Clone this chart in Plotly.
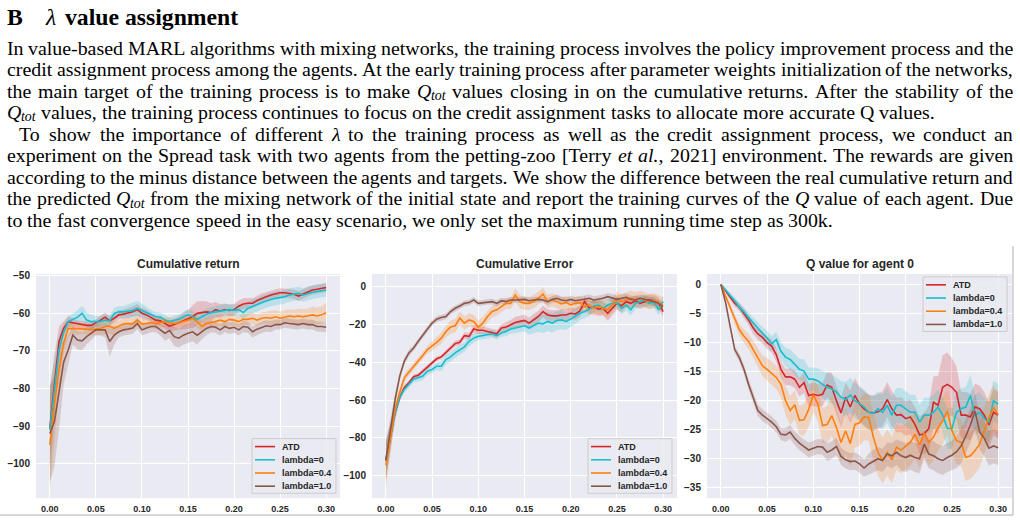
import os
import re
import struct
import plotly.graph_objects as go

W, H = 1020, 522
x_steps = [round(i * 0.005, 3) for i in range(61)]
series_names = ["ATD", "lambda=0", "lambda=0.4", "lambda=1.0"]
series_colors = ["#d62728", "#17becf", "#ff7f0e", "#8c564b"]
band_colors = ["rgba(214,39,40,0.22)", "rgba(23,190,207,0.22)", "rgba(255,127,14,0.22)", "rgba(140,86,75,0.22)"]
panel_titles = ["Cumulative return", "Cumulative Error", "Q value for agent 0"]
x_ticks = [0.0, 0.05, 0.10, 0.15, 0.20, 0.25, 0.30]
y_ticks_p1 = [-50, -60, -70, -80, -90, -100]
y_ticks_p2 = [0, -20, -40, -60, -80, -100]
y_ticks_p3 = [0, -5, -10, -15, -20, -25, -30, -35]

# ---------- Panel 1: Cumulative return ----------
ret_atd = [-90.5, -79, -67.5, -64, -62.2, -62.5, -62.8, -63, -63.2, -63.2,
           -62.6, -61.8, -61, -62, -61.3, -60.4, -60.2, -60, -59.6, -59,
           -60, -60.4, -61, -61.8, -62, -62.8, -63.4, -63, -62.5, -62,
           -61.6, -60.9, -60, -59.8, -59.6, -59.8, -59, -59.4, -59, -59.2,
           -59, -58.1, -57.5, -57.3, -57.3, -56.6, -56, -55.6, -55.1, -54.8,
           -54.5, -54.5, -54.7, -54.9, -55.4, -54.9, -54.2, -53.8, -53.6, -53.3,
           -53.1]
ret_l0 = [-91, -80, -69.7, -65, -62.2, -61.6, -61, -60, -61.8, -62.2,
          -62.2, -62.2, -61.8, -62, -60, -59.6, -59.6, -59.4, -59.2, -58.7,
          -59.2, -59.8, -60.4, -60.9, -61, -61.8, -62.2, -61.8, -61.6, -60.9,
          -60.4, -60.9, -61.6, -60.9, -60.2, -59.8, -59.6, -59.2, -59, -59,
          -59.2, -59, -59.8, -58.7, -58.2, -57.8, -57.2, -56.7, -56.3, -56,
          -55.8, -55.6, -55.1, -54.9, -54.7, -55.1, -54.7, -54.4, -54.2, -53.9,
          -53.8]
ret_l04 = [-95, -84, -75, -68, -64, -64, -64.2, -64, -64.2, -64.4,
           -64.2, -64, -63.5, -63.4, -64, -63.4, -62.8, -62.7, -62.8, -61.8,
           -62.8, -62.7, -62.5, -62.8, -62.5, -62.2, -62.5, -62.7, -62.5, -62.2,
           -61.8, -61.3, -62.2, -63.5, -62.7, -62.5, -62.2, -61.8, -62.2, -61.6,
           -61.8, -62.2, -61.6, -61.6, -61.3, -61.8, -61.3, -61.1, -61.3, -60.9,
           -61.3, -60.9, -60.7, -60.9, -60.7, -60.9, -60.7, -60.4, -60.7, -60.4,
           -59.8]
ret_l1 = [-92, -88.8, -81, -73, -69.7, -65.8, -67.1, -67.3, -66.2, -65.3,
          -64.4, -64.4, -64.4, -67.5, -65.8, -64.9, -64.4, -64.2, -63.9, -62.7,
          -64.4, -63.9, -63.5, -63.5, -64.4, -65.3, -64.6, -66.2, -66.6, -65.8,
          -65.3, -64.9, -65.8, -64.9, -64, -63.5, -63.7, -64.4, -63.5, -64,
          -63.7, -64.4, -63.5, -63.7, -64.9, -64.2, -63.7, -63.3, -63.5, -63,
          -63, -62.5, -62.7, -62.9, -63, -62.7, -63, -63, -63.5, -63.5,
          -63.7]
ret_atd_sd = [10, 8, 4, 2, 1.5, 1.2, 1, 1, 1, 1,
              1, 1, 1.2, 1.2, 1.2, 1.2, 1.2, 1.3, 1.4, 1.5,
              1.5, 1.3, 1.2, 1.2, 1.2, 1.2, 1.5, 1.5, 1.8, 2.2,
              2.5, 3, 3.2, 3, 2.8, 2.5, 2, 1.8, 1.6, 1.5,
              1.5, 1.5, 1.5, 1.4, 1.3, 1.3, 1.3, 1.2, 1.2, 1.2,
              1.2, 1.2, 1.2, 1.2, 1.3, 1.3, 1.3, 1.2, 1.2, 1.2,
              1.2]
ret_l0_sd = [12, 8, 4, 2, 1.5, 1.5, 1.8, 2, 2, 1.8,
             1.5, 1.5, 1.5, 1.5, 1.5, 1.5, 1.5, 1.8, 2, 2,
             1.8, 1.5, 1.3, 1.2, 1.2, 1.2, 1.2, 1.2, 1.2, 1.3,
             1.5, 1.5, 1.5, 1.5, 1.5, 1.5, 1.5, 1.5, 1.5, 1.5,
             1.5, 1.5, 1.8, 1.8, 1.8, 1.8, 1.8, 1.8, 1.8, 1.8,
             1.8, 1.8, 1.8, 1.8, 1.8, 1.8, 1.8, 1.8, 1.8, 1.8,
             1.8]
ret_l04_sd = [12, 10, 6, 3, 2, 1.5, 1.5, 1.5, 1.5, 1.5,
              1.5, 1.5, 2, 2, 2, 1.5, 1.5, 1.5, 1.5, 1.5,
              1.3, 1.3, 1.3, 1.3, 1.3, 1.3, 1.3, 1.3, 1.3, 1.3,
              1.3, 1.3, 1.5, 1.5, 1.5, 1.5, 1.5, 1.5, 1.5, 1.5,
              1.5, 1.5, 1.5, 1.5, 1.5, 1.5, 1.5, 1.5, 1.8, 1.8,
              1.8, 1.8, 1.8, 1.8, 2, 2, 2, 2.2, 2.2, 2.3,
              2.5]
ret_l1_sd = [13, 12, 10, 6, 4, 2.5, 2.5, 2.5, 2, 1.8,
             1.5, 1.5, 2, 4, 2.5, 1.5, 1.5, 1.5, 1.5, 1.5,
             1.5, 1.5, 1.5, 1.5, 1.5, 2, 2, 2.5, 2.5, 2.5,
             2.5, 2.5, 2.5, 2, 1.8, 1.5, 1.5, 1.5, 1.5, 1.5,
             1.5, 1.5, 1.5, 1.5, 1.5, 1.5, 1.5, 1.5, 1.5, 1.3,
             1.3, 1.3, 1.3, 1.3, 1.3, 1.3, 1.3, 1.3, 1.3, 1.3,
             1.3]

# ---------- Panel 2: Cumulative Error ----------
err_atd = [-92, -79, -66.5, -58.7, -53.5, -50.9, -47.7, -47, -44.8, -42.5,
           -40.4, -38.3, -37.3, -34.8, -32.6, -30.3, -29.6, -26.1, -26.5, -22.6,
           -23.3, -23.3, -23.9, -24.7, -25.1, -22.1, -21.6, -20.4, -19.2, -18.6,
           -18.1, -19.5, -17.8, -16, -13.4, -15.2, -15.7, -15.7, -15.2, -15.2,
           -14.3, -14.7, -13.1, -8.2, -11.7, -10.8, -12.2, -11.7, -14.3, -11.7,
           -9, -10.4, -8.2, -9.1, -7.7, -9.1, -8.2, -7.3, -7.7, -8.7,
           -13.4]
err_l0 = [-91, -79.6, -66.5, -58.7, -54.4, -51.7, -49.1, -48.3, -47.4, -44.8,
          -43.9, -42.2, -42.2, -38.7, -37.3, -35.2, -33.4, -32, -29.1, -27.4,
          -26.5, -26.1, -25.6, -25.1, -26.1, -24.7, -23.9, -22.6, -22.1, -21.3,
          -20.9, -22.1, -20.9, -19.5, -19.9, -18.6, -19.5, -18.1, -17.8, -18.6,
          -17.4, -16, -14.3, -13.4, -12.2, -10.5, -10, -11.7, -10, -9.1,
          -9, -11.7, -10, -12.5, -9.1, -8.2, -7.3, -9.1, -8.2, -12.5,
          -8.2]
err_l04 = [-94.4, -80.5, -64.8, -56, -48.3, -45.3, -42.5, -39.5, -36.6, -33.4,
           -31.7, -29.6, -27.4, -23.9, -21.6, -20.9, -16.9, -19.5, -17.8, -18.6,
           -21.6, -19.5, -16, -13.4, -12.5, -10.8, -9.1, -9.1, -4.7, -8.2,
           -9.1, -9.1, -8.2, -6.4, -4.2, -8.2, -7.3, -8.2, -9.4, -8.7,
           -9.9, -9.1, -8.7, -10.8, -9.9, -11.7, -10.8, -11.7, -12.5, -9.9,
           -7, -8.2, -7.3, -6.4, -7.3, -6.4, -7.3, -8.2, -7.7, -8.7,
           -9.9]
err_l1 = [-91.8, -75.3, -59.6, -47.4, -39.5, -35.2, -32.6, -29.1, -25.6, -22.6,
          -19.5, -17.4, -16.6, -16, -13.4, -11.7, -10.5, -9.1, -8.7, -7.3,
          -9.1, -8.7, -8.2, -8.2, -9.1, -7.7, -8.2, -7.3, -7.3, -7,
          -7, -7.7, -7.3, -7, -7.3, -8.2, -7, -6.4, -7.3, -7.7,
          -7, -7.7, -7.3, -7, -6.4, -7.3, -7, -6.4, -5.6, -6.4,
          -7, -6.4, -5.9, -7, -7.3, -6.4, -7, -7.3, -8.2, -9.1,
          -10.8]
err_atd_sd = [10, 7, 4, 2, 1.5, 1.2, 1.2, 1.2, 1.2, 1.2,
              1.2, 1.2, 1.2, 1.5, 1.5, 1.5, 1.5, 1.8, 1.8, 2,
              2, 2, 2, 2, 2, 2, 2.5, 2.5, 3, 3,
              3, 3, 3, 3, 3, 3, 3, 3, 3, 3,
              3, 3, 3, 3, 3.5, 3.5, 3.5, 3.5, 4, 4,
              3.5, 3.5, 3, 3, 3, 3, 3, 3, 3, 3,
              3]
err_l0_sd = [10, 7, 4, 2, 1.8, 1.8, 1.8, 2, 2, 2,
             2, 2, 2.5, 2.5, 2.5, 2.5, 2.5, 2.5, 2.5, 2.5,
             2, 2, 2, 2, 2, 2, 2.5, 2.5, 3, 3,
             3, 3.5, 4, 4.5, 5, 5, 5, 5, 5, 4.5,
             4, 4, 3.5, 3.5, 3.5, 3, 3, 3, 3, 3,
             3, 3, 3, 3, 3, 3, 3, 3, 3, 3,
             3]
err_l04_sd = [12, 8, 4, 2.5, 2, 2, 2, 2, 2, 2,
              2.5, 2.5, 3, 3, 3.5, 3.5, 3.5, 3.5, 3.5, 3.5,
              3.5, 3.5, 3, 3, 3, 3, 3, 3, 3.5, 3.5,
              3.5, 3.5, 3.5, 3.5, 3.5, 3.5, 3.5, 3.5, 3.5, 3.5,
              3.5, 3.5, 3.5, 3.5, 4, 4, 4, 4, 4, 4,
              4, 4, 4, 4, 4, 4, 4, 4, 4, 4,
              4]
err_l1_sd = [10, 6, 3, 2, 1.8, 1.8, 1.5, 1.5, 1.5, 1.5,
             1.5, 1.5, 1.5, 1.5, 1.5, 1.5, 1.5, 1.5, 1.5, 1.5,
             1.5, 1.5, 1.5, 1.5, 1.5, 1.5, 1.5, 1.5, 1.5, 1.5,
             1.5, 1.5, 1.5, 1.5, 1.5, 1.8, 1.8, 1.8, 1.8, 1.8,
             2, 2, 2, 2, 2, 2, 2, 2, 2, 2,
             2, 2, 2, 2, 2, 2, 2, 2, 2, 2,
             2]

# ---------- Panel 3: Q value for agent 0 ----------
q_atd = [0, -1, -2.2, -3.2, -3.9, -5, -6.1, -7.5, -8.5, -9.1,
         -10, -10.6, -12.1, -14.6, -15.9, -15.9, -16.3, -17.7, -16.9, -19.1,
         -18.9, -19.1, -18.9, -17.3, -17.7, -20, -22.1, -19.4, -21.1, -19.1,
         -20.6, -21.4, -22, -22.1, -21.9, -21.4, -19.8, -21.4, -22.5, -22.4,
         -23.1, -22.8, -24.1, -25.9, -25.7, -24.8, -20.3, -20.8, -17.7, -17.2,
         -17.7, -18.6, -22.5, -22.5, -22.8, -21.1, -21.4, -22.5, -24.2, -22,
         -22.5]
q_l0 = [0, -0.9, -1.9, -2.8, -3.9, -4.7, -5.7, -6.7, -7.5, -8.4,
        -9.2, -10.2, -9.5, -11.5, -12.5, -12.9, -13.8, -14.6, -14.9, -16.3,
        -16.3, -16.6, -17.2, -17.7, -18, -18.5, -19.4, -19.8, -19, -20,
        -20.5, -21.1, -22, -22.2, -21.4, -22, -20.8, -22.5, -20.8, -20.8,
        -21.4, -22, -22, -23.7, -22.5, -22.5, -22, -21.1, -22.5, -24.8,
        -24.8, -22, -21.4, -21.1, -19.1, -22.5, -22, -23.1, -23.7, -20,
        -20.6]
q_l04 = [0, -1.9, -3.9, -6, -7.8, -8.9, -9.8, -11.2, -12.6, -14,
         -14.6, -15.3, -16, -17.2, -20, -21.7, -20.7, -23.4, -23.3, -21.5,
         -19, -20.6, -24.3, -24.1, -22.6, -24.6, -27.2, -25.2, -27.4, -24.1,
         -23.8, -22.8, -22.9, -26.3, -28.9, -30.3, -28.9, -30.2, -28, -28.5,
         -27.8, -27.2, -25.8, -27.6, -25.6, -27.2, -26.3, -24.6, -23.5, -21.8,
         -25.2, -26.9, -27.2, -29.8, -29.5, -28.6, -27.5, -25.2, -22.9, -21.2,
         -22.4]
q_l1 = [0, -3, -7.2, -11.2, -12.6, -14.6, -17.2, -19.4, -21.7, -22.5,
        -23.1, -23.7, -24.5, -25.8, -25.9, -25.4, -26.5, -27.3, -27.9, -28.5,
        -28.2, -27.9, -28, -28.9, -28.5, -27.9, -29.6, -30.2, -30.5, -30.4,
        -30.9, -31.6, -30.9, -30.4, -30, -30.3, -29.2, -29.5, -28.9, -29.5,
        -29.8, -29.4, -29.8, -30, -27.5, -29.2, -29.5, -30, -30.3, -29.8,
        -29.4, -28.8, -27.8, -26.1, -24.2, -21.8, -25.4, -26.5, -28.2, -27.8,
        -28.1]
q_atd_sd = [0, 0.3, 0.5, 0.6, 0.7, 0.8, 0.9, 1, 1, 1,
            1.1, 1.1, 1.2, 1.3, 1.4, 1.5, 1.5, 1.6, 1.8, 2,
            2, 2, 2, 2.2, 2.5, 2.5, 2.5, 2.5, 2.8, 3,
            3, 3, 3, 3, 3, 3, 3, 3, 3, 3,
            3, 3, 3, 3.2, 3.5, 4, 4.5, 5, 5.5, 5.5,
            5, 4.5, 4, 4, 4, 4, 4, 4, 4, 4,
            4]
q_l0_sd = [0, 0.3, 0.5, 0.6, 0.7, 0.8, 0.9, 1, 1, 1.1,
           1.2, 1.3, 1.4, 1.5, 1.6, 1.7, 1.8, 1.8, 2, 2,
           2, 2.2, 2.3, 2.5, 2.5, 2.5, 2.8, 3, 3, 3,
           3, 3, 3, 3, 3, 3, 3, 3, 3, 3,
           3, 3, 3, 3, 3, 3, 3, 3, 3, 3.5,
           3.5, 3.5, 3.5, 3.5, 3.5, 3.5, 3.5, 3.5, 3.5, 3.5,
           3.5]
q_l04_sd = [0, 0.3, 0.6, 0.8, 1, 1.2, 1.3, 1.5, 1.6, 1.8,
            2, 2, 2, 2.2, 2.5, 2.5, 2.5, 2.5, 2.8, 3,
            3, 3, 3, 3.2, 3.5, 3.5, 3.5, 4, 4, 4,
            4, 4, 4, 4, 4, 4, 4, 4, 4, 4,
            4, 4, 4, 4, 4, 4, 4, 4, 4, 4,
            4, 4, 4, 4, 4, 4, 4, 4, 4, 4,
            4]
q_l1_sd = [0, 0.3, 0.5, 0.6, 0.7, 0.8, 0.9, 1, 1, 1,
           1, 1, 1, 1, 1.2, 1.2, 1.2, 1.2, 1.2, 1.3,
           1.3, 1.3, 1.3, 1.5, 1.5, 1.5, 1.5, 1.5, 1.5, 1.5,
           1.5, 1.5, 1.8, 2, 2, 2, 2, 2.2, 2.2, 2.5,
           2.5, 2.5, 2.5, 2.5, 2.5, 2.5, 2.5, 2.5, 2.5, 2.5,
           2.5, 2.8, 3, 3, 3, 3, 3, 3, 3, 3,
           3]

# ---------- page text ----------
QT = "<i>Q</i><sub><i>tot</i></sub>"
body_lines = [
    "In value-based MARL algorithms with mixing networks, the training process involves the policy improvement process and the",
    "credit assignment process among the agents. At the early training process after parameter weights initialization of the networks,",
    "the main target of the training process is to make " + QT + " values closing in on the cumulative returns. After the stability of the",
    QT + " values, the training process continues to focus on the credit assignment tasks to allocate more accurate Q values.",
    "To show the importance of different <i>λ</i> to the training process as well as the credit assignment process, we conduct an",
    "experiment on the Spread task with two agents from the petting-zoo [Terry <i>et</i> <i>al.</i>, 2021] environment. The rewards are given",
    "according to the minus distance between the agents and targets. We show the difference between the real cumulative return and",
    "the predicted " + QT + " from the mixing network of the initial state and report the training curves of the <i>Q</i> value of each agent. Due",
    "to the fast convergence speed in the easy scenario, we only set the maximum running time step as 300k.",
]
justified = [True, True, True, False, True, True, True, True, False]

panels = [
    ([ret_atd, ret_l0, ret_l04, ret_l1], [ret_atd_sd, ret_l0_sd, ret_l04_sd, ret_l1_sd]),
    ([err_atd, err_l0, err_l04, err_l1], [err_atd_sd, err_l0_sd, err_l04_sd, err_l1_sd]),
    ([q_atd, q_l0, q_l04, q_l1], [q_atd_sd, q_l0_sd, q_l04_sd, q_l1_sd]),
]
for means, sds in panels:
    for arr in means + sds:
        assert len(arr) == len(x_steps), len(arr)


# ---------- font metrics (to lay out justified text like the page) ----------
def find_font(name):
    for root in ["/usr/share/fonts", "/usr/local/share/fonts",
                 os.path.expanduser("~/.fonts"), os.path.expanduser("~/.local/share/fonts")]:
        for dp, dn, fn in os.walk(root):
            if name in fn:
                return os.path.join(dp, name)
    return None


def load_metrics(name, fallback_em=0.45):
    path = find_font(name)
    if path is None:
        return lambda s: fallback_em * len(s)
    try:
        data = open(path, "rb").read()
        ntab = struct.unpack(">H", data[4:6])[0]
        tabs = {}
        for i in range(ntab):
            tag, _cs, off, ln = struct.unpack(">4sIII", data[12 + 16 * i: 28 + 16 * i])
            tabs[tag.decode("latin1")] = off
        upem = struct.unpack(">H", data[tabs["head"] + 18: tabs["head"] + 20])[0]
        nhm = struct.unpack(">H", data[tabs["hhea"] + 34: tabs["hhea"] + 36])[0]
        hm = tabs["hmtx"]
        adv = [struct.unpack(">H", data[hm + 4 * i: hm + 4 * i + 2])[0] for i in range(nhm)]
        cm = tabs["cmap"]
        nsub = struct.unpack(">H", data[cm + 2: cm + 4])[0]
        so = None
        for i in range(nsub):
            pid, eid, off = struct.unpack(">HHI", data[cm + 4 + 8 * i: cm + 12 + 8 * i])
            if pid == 3 and eid == 1:
                so = cm + off
        assert struct.unpack(">H", data[so: so + 2])[0] == 4
        seg2 = struct.unpack(">H", data[so + 6: so + 8])[0]
        seg = seg2 // 2
        p = so + 14
        ends = struct.unpack(">%dH" % seg, data[p: p + seg2]); p += seg2 + 2
        starts = struct.unpack(">%dH" % seg, data[p: p + seg2]); p += seg2
        deltas = struct.unpack(">%dh" % seg, data[p: p + seg2]); p += seg2
        ro_pos = p
        ros = struct.unpack(">%dH" % seg, data[p: p + seg2])

        def glyph(ch):
            code = ord(ch)
            for i in range(seg):
                if ends[i] >= code:
                    if starts[i] > code:
                        return 0
                    if ros[i] == 0:
                        return (code + deltas[i]) & 0xFFFF
                    addr = ro_pos + 2 * i + ros[i] + 2 * (code - starts[i])
                    g = struct.unpack(">H", data[addr: addr + 2])[0]
                    return ((g + deltas[i]) & 0xFFFF) if g else 0
            return 0

        def width(s):
            t = 0
            for ch in s:
                g = glyph(ch)
                t += adv[g] if g < nhm else adv[-1]
            return t / upem
        return width
    except Exception:
        return lambda s: fallback_em * len(s)


w_reg = load_metrics("LiberationSerif-Regular.ttf")
w_ita = load_metrics("LiberationSerif-Italic.ttf")
w_bold = load_metrics("LiberationSerif-Bold.ttf", 0.5)

TAG = re.compile(r"(</?i>|</?sub>)")
SUB_SCALE = 0.7


def word_pieces(word):
    """Split a word into runs: (html, em width, is_subscript)."""
    it = sb = False
    pieces = []
    for part in TAG.split(word):
        if part == "<i>":
            it = True
        elif part == "</i>":
            it = False
        elif part == "<sub>":
            sb = True
        elif part == "</sub>":
            sb = False
        elif part:
            html = "<i>" + part + "</i>" if it else part
            wem = (w_ita if it else w_reg)(part) * (SUB_SCALE if sb else 1.0)
            if pieces and pieces[-1][2] == sb:
                h0, w0, s0 = pieces[-1]
                pieces[-1] = (h0 + html, w0 + wem, sb)
            else:
                pieces.append((html, wem, sb))
    return pieces


def px(x):
    return x / W


def py(y):
    return 1 - y / H


fig = go.Figure()

dom_x = [(36, 340), (372, 677), (707, 1012)]
dom_y = (272, 498)
y_ranges = [(-109.2, -49.5), (-111.7, 6.4), (-36.8, 1.83)]
y_ticks = [y_ticks_p1, y_ticks_p2, y_ticks_p3]

for p, (means, sds) in enumerate(panels):
    xa = "x" if p == 0 else f"x{p+1}"
    ya = "y" if p == 0 else f"y{p+1}"
    for k in range(4):
        m, s = means[k], sds[k]
        up = [a + b for a, b in zip(m, s)]
        lo = [a - b for a, b in zip(m, s)]
        fig.add_trace(go.Scatter(
            x=x_steps + x_steps[::-1], y=up + lo[::-1], fill="toself",
            fillcolor=band_colors[k], line=dict(width=0), mode="lines",
            hoverinfo="skip", showlegend=False, xaxis=xa, yaxis=ya))
    for k in range(4):
        fig.add_trace(go.Scatter(
            x=x_steps, y=means[k], mode="lines", name=series_names[k],
            line=dict(color=series_colors[k], width=1.6),
            xaxis=xa, yaxis=ya, showlegend=False))

xtick_font = dict(family="Liberation Sans, Arial", size=9, color="#262626", weight="bold")
ytick_font = dict(family="Liberation Sans, Arial", size=10, color="#262626", weight="bold")
layout = dict(
    width=W, height=H, margin=dict(l=0, r=0, t=0, b=0),
    paper_bgcolor="white", plot_bgcolor="#EAEAF2",
    font=dict(family="Liberation Sans, Arial", size=10, color="#262626"),
    showlegend=False,
)
for p in range(3):
    sx = "" if p == 0 else str(p + 1)
    layout["xaxis" + sx] = dict(
        domain=[px(dom_x[p][0]), px(dom_x[p][1])], anchor="y" + sx,
        range=[-0.015, 0.315], tickvals=x_ticks, tickformat=".2f",
        showgrid=True, gridcolor="white", gridwidth=1, zeroline=False,
        showline=False, ticks="", tickfont=xtick_font, ticklabelstandoff=4)
    layout["yaxis" + sx] = dict(
        domain=[py(dom_y[1]), py(dom_y[0])], anchor="x" + sx,
        range=list(y_ranges[p]), tickvals=y_ticks[p],
        showgrid=True, gridcolor="white", gridwidth=1, zeroline=False,
        showline=False, ticks="", tickfont=ytick_font, ticklabelstandoff=5)
fig.update_layout(**layout)

annotations = []
shapes = []

# panel titles
for p in range(3):
    cx = (dom_x[p][0] + dom_x[p][1]) / 2
    annotations.append(dict(
        text="<b>" + panel_titles[p] + "</b>", x=px(cx), y=py(262), xref="paper", yref="paper",
        xanchor="center", yanchor="middle", showarrow=False,
        font=dict(family="Liberation Sans, Arial", size=12, color="#262626")))

# legends (drawn as boxes, line samples and labels, like the matplotlib ones)
legend_boxes = [(252, 438), (588, 438), (923, 275)]
for (lx, ly) in legend_boxes:
    shapes.append(dict(type="rect", xref="paper", yref="paper", layer="above",
                       x0=px(lx), x1=px(lx + 84), y0=py(ly), y1=py(ly + 55),
                       fillcolor="rgba(234,234,242,0.85)", line=dict(color="#CCCCCC", width=1)))
    for k in range(4):
        yy = ly + 8 + 13.3 * k
        shapes.append(dict(type="line", xref="paper", yref="paper", layer="above",
                           x0=px(lx + 3), x1=px(lx + 23), y0=py(yy), y1=py(yy),
                           line=dict(color=series_colors[k], width=1.6)))
        annotations.append(dict(
            text=series_names[k], x=px(lx + 29), y=py(yy), xref="paper", yref="paper",
            xanchor="left", yanchor="middle", showarrow=False, borderpad=0,
            font=dict(family="Liberation Sans, Arial", size=9, color="#262626", weight="bold")))

# heading
SERIF = "Liberation Serif, Times New Roman"
ASC = 0.891
head_px = 173.3 / w_bold("value assignment")
head_base = 20.0
head_top = head_base - ASC * head_px
for txt, hx in [("<b>B</b>", 6), ("<i>λ</i>", 44), ("<b>value assignment</b>", 64)]:
    annotations.append(dict(text=txt, x=px(hx), y=py(head_top), xref="paper", yref="paper",
                            xanchor="left", yanchor="top", showarrow=False, borderpad=0,
                            font=dict(family=SERIF, size=head_px, color="black")))

# body text, laid out word by word so that it is justified like the page
last_words = body_lines[-1].split(" ")
body_px = 826 / (sum(sum(pc[1] for pc in word_pieces(w)) for w in last_words)
                 + w_reg(" ") * (len(last_words) - 1))
sub_px = body_px * SUB_SCALE
for i, line in enumerate(body_lines):
    words = line.split(" ")
    left = 18 if i == 4 else 6
    right = 1012
    pieces = [word_pieces(w) for w in words]
    widths = [sum(pc[1] for pc in pcs) * body_px for pcs in pieces]
    if justified[i]:
        gap = (right - left - sum(widths)) / (len(words) - 1)
    else:
        gap = w_reg(" ") * body_px
    base = 49.5 + 21.72 * i
    xpos = left
    for pcs, wd in zip(pieces, widths):
        xp = xpos
        for html, wem, sb in pcs:
            size = sub_px if sb else body_px
            b = base + (3.0 if sb else 0.0)
            annotations.append(dict(
                text=html, x=px(xp), y=py(b - ASC * size), xref="paper", yref="paper",
                xanchor="left", yanchor="top", showarrow=False, borderpad=0,
                font=dict(family=SERIF, size=size, color="black")))
            xp += wem * body_px
        xpos += wd + gap

fig.update_layout(annotations=annotations)

shapes += [
    dict(type="line", xref="paper", yref="paper", x0=0, x1=px(1013), y0=py(515), y1=py(515),
         line=dict(color="#B0B0B0", width=1)),
    dict(type="line", xref="paper", yref="paper", x0=px(1013), x1=px(1013), y0=py(244), y1=py(515),
         line=dict(color="#B0B0B0", width=1)),
]
fig.update_layout(shapes=shapes)

fig.write_html("out.html")
